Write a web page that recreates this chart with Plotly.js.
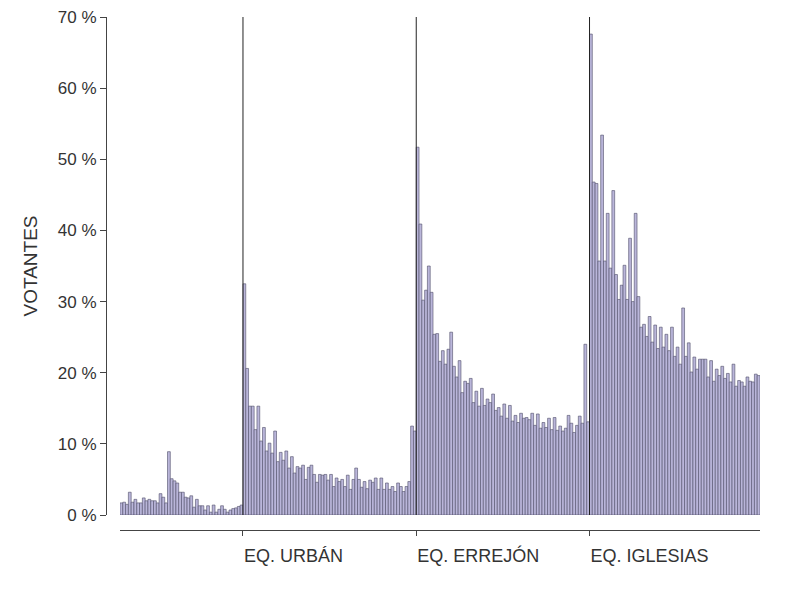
<!DOCTYPE html>
<html>
<head>
<meta charset="utf-8">
<script src="https://cdn.plot.ly/plotly-3.0.1.min.js"></script>
<style>html,body{margin:0;padding:0;background:#fff;}#chart{width:800px;height:600px;}</style>
</head>
<body>
<div id="chart"></div>
<script>
// Group labels (tick labels)
var groupLabels = ["", "EQ. URBÁN", "EQ. ERREJÓN", "EQ. IGLESIAS"];

// Series values (% of voters) for each group
var group1 = [1.7,1.8,1.5,3.2,1.8,2.2,1.7,1.7,2.4,2.0,2.2,2.0,2.0,1.7,3.0,2.5,1.7,8.9,5.1,4.8,
              4.5,3.2,3.2,2.5,2.4,2.7,1.1,2.2,1.3,1.3,0.7,1.3,0.4,1.4,0.4,0.8,1.3,0.8,0.4,0.7,
              0.9,1.0,1.2,1.4];
var group2 = [32.5,20.6,15.3,15.3,12.0,15.3,10.4,12.3,9.0,10.1,8.7,11.8,7.5,8.8,7.7,9.0,6.6,8.2,5.9,6.8,
              6.6,7.0,5.0,6.7,7.0,5.7,4.6,5.7,5.6,5.7,4.9,5.7,4.0,5.2,4.7,5.0,4.0,5.6,3.6,5.0,
              6.6,5.0,3.9,4.7,3.7,4.9,4.6,5.2,3.6,5.2,3.6,4.5,3.6,4.0,3.3,4.5,4.0,3.3,4.0,4.7,
              12.5,11.8];
var group3 = [51.7,40.9,30.2,31.6,35.0,31.3,25.4,25.5,21.6,23.1,21.2,23.3,25.7,20.9,19.4,21.7,17.2,18.8,18.5,19.2,
              15.8,17.4,15.3,17.8,15.4,16.3,15.8,17.0,14.7,15.1,13.9,15.6,13.6,15.4,13.2,14.0,13.0,14.3,13.6,13.7,
              13.4,14.3,12.6,14.2,12.2,13.0,12.3,13.6,12.0,13.7,11.9,12.5,11.8,12.2,14.0,12.9,11.6,12.6,13.9,12.9,
              24.0,13.1];
var group4 = [67.6,46.8,46.6,35.7,53.4,35.7,42.4,34.7,45.6,33.8,30.3,32.3,35.1,30.3,38.9,30.0,42.4,30.7,26.4,26.8,
              25.1,27.9,24.3,26.7,23.4,26.4,23.6,25.4,23.1,26.4,22.3,23.6,21.2,29.1,22.3,24.2,20.1,22.2,20.5,21.9,
              21.9,21.9,19.4,21.7,18.8,20.5,19.6,20.9,19.2,19.9,18.7,21.2,18.1,18.9,18.7,18.1,19.4,18.8,18.7,19.8,
              19.6];
var yTicks = [0,10,20,30,40,50,60,70];

var groups = [group1, group2, group3, group4];
var values = [].concat(group1, group2, group3, group4);
var idx = values.map(function(_, i){ return i; });

// group start boundaries (bar left edges)
var starts = [];
var acc = 0;
groups.forEach(function(g){ starts.push(acc - 0.5); acc += g.length; });

var FONT = "Liberation Sans, Arial, sans-serif";
var TXT = "#333333";

var trace = {
  type: "bar",
  x: idx,
  y: values,
  marker: {color: "#bab6da", line: {color: "rgba(80,78,105,0.6)", width: 1}},
  hoverinfo: "y"
};

var shapes = starts.slice(1).map(function(s){
  return {type: "line", xref: "x", yref: "y", x0: s, x1: s, y0: 0, y1: 70,
          line: {color: "#222222", width: 1}};
});

var layout = {
  width: 800, height: 600,
  margin: {l: 106, r: 40, t: 17, b: 70, pad: 0},
  paper_bgcolor: "#ffffff", plot_bgcolor: "#ffffff",
  showlegend: false,
  bargap: 0,
  font: {family: FONT, color: TXT, size: 17},
  xaxis: {
    domain: [14/654, 1],
    range: [-0.5, values.length - 0.5],
    anchor: "free", position: 0,
    showline: true, linecolor: "#444444", linewidth: 1,
    showgrid: false, zeroline: false,
    ticks: "outside", ticklen: 5, tickcolor: "#444444",
    tickvals: starts.slice(1),
    ticktext: groupLabels.slice(1),
    ticklabelposition: "outside right",
    ticklabelstandoff: 9,
    tickfont: {family: FONT, size: 18, color: TXT}
  },
  yaxis: {
    domain: [15/513, 1],
    range: [0, 70],
    anchor: "free", position: 0,
    showline: true, linecolor: "#444444", linewidth: 1,
    showgrid: false, zeroline: false,
    ticks: "outside", ticklen: 6, tickcolor: "#444444",
    tickvals: yTicks,
    ticktext: yTicks.map(function(v){ return v + " %"; }),
    tickfont: {family: FONT, size: 17, color: TXT},
    title: {text: "VOTANTES", font: {family: FONT, size: 19, color: TXT}, standoff: 14}
  },
  shapes: shapes
};

Plotly.newPlot("chart", [trace], layout, {displayModeBar: false, staticPlot: true});
</script>
</body>
</html>
